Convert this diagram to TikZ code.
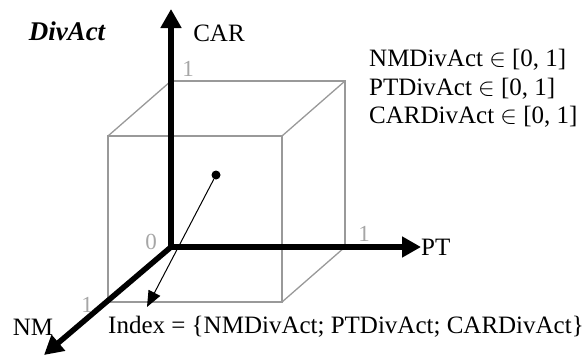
\documentclass[tikz,border=0pt]{standalone}
\usepackage{fontspec}
\setmainfont{Liberation Serif}
\usetikzlibrary{calc,arrows.meta}

\begin{document}
\begin{tikzpicture}[x=1pt,y=-1pt,
  axis/.style={line width=5.5pt,-{Triangle[length=19pt,width=20pt]}},
  edge/.style={draw=black!40,line width=1.3pt},
  tick/.style={text=black!35,inner sep=0,font=\fontsize{23}{26}\selectfont},
  lbl/.style={inner sep=0,font=\fontsize{25}{29}\selectfont}]
\useasboundingbox (0,0) rectangle (585,356);

\pgfmathsetmacro{\dx}{-63} % depth offset of the cube
\pgfmathsetmacro{\dy}{55}

% origin and back face of the cube
\coordinate (o) at (171,247);
\coordinate (b1) at (171,81);
\coordinate (b2) at (345,81);
\coordinate (b3) at (345,247);

% front face, shifted from the back one
\coordinate (f0) at ($(o)+(\dx,\dy)$);
\foreach \i in {1,2,3}
  \coordinate (f\i) at ($(b\i)+(\dx,\dy)$);

% cube edges
\draw[edge] (f0) -- (f1) -- (f2) -- (f3) -- cycle;
\draw[edge] (b1) -- (b2) -- (b3);
\foreach \i in {1,2,3}
  \draw[edge] (b\i) -- (f\i);

% axis ends
\coordinate (car) at (171,9);
\coordinate (pt) at (421,247);
\coordinate (nm) at (44,355);

\draw[axis] (o) -- (car);
\draw[axis] (o) -- (pt);
\draw[axis] (o) -- (nm);

% axis labels
\node[lbl] (carlbl) at (219,33) {CAR};
\node[lbl,anchor=west] (ptlbl) at (pt) {PT};
\node[lbl] (nmlbl) at (33,327) {NM};
\node[lbl,font=\fontsize{27}{30}\selectfont\bfseries\itshape] (title) at (67,31) {DivAct};

% ticks
\node[tick] (t0) at (151,242) {0};
\node[tick] (tcar) at (188,69) {1};
\node[tick] (tpt) at (364,234) {1};
\node[tick] (tnm) at (87,305) {1};

% ranges, one line each
\foreach \name [count=\k] in {NM,PT,CAR}
  \node[lbl,anchor=west] (rng\k) at (369,{60+(\k-1)*28.5}) {\name DivAct $\in$ [0, 1]};

% point and its index vector
\node[circle,fill,inner sep=0,minimum size=9pt] (pnt) at (216,175) {};
\coordinate (tip) at (147,307);
\draw[line width=1pt,-{Triangle[length=16pt,width=13pt]}] (pnt) -- (tip);

\node[lbl] (index) at (346,327) {Index = \{NMDivAct; PTDivAct; CARDivAct\}};
\end{tikzpicture}
\end{document}
